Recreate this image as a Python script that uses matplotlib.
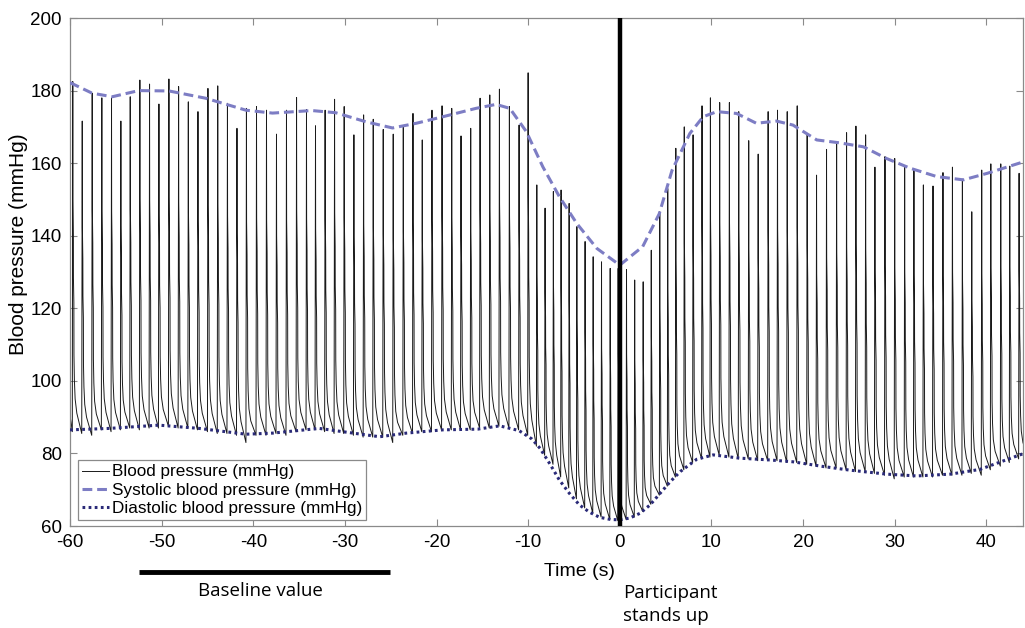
import numpy as np
import matplotlib
matplotlib.use("Agg")
import matplotlib.pyplot as plt
from matplotlib.lines import Line2D
import matplotlib.transforms as mtransforms

# ---------------- data ----------------
beat_t = [-59.75, -58.72, -57.63, -56.58, -55.52, -54.50, -53.48, -52.43, -51.37, -50.35,
          -49.26, -48.20, -47.14, -46.09, -45.00, -43.93, -42.87, -41.83, -40.80, -39.70,
          -38.61, -37.52, -36.43, -35.33, -34.24, -33.26, -32.21, -31.18, -30.13, -29.07,
          -28.01, -26.96, -25.87, -24.78, -23.68, -22.62, -21.61, -20.55, -19.45, -18.39,
          -17.38, -16.32, -15.30, -14.24, -13.19, -12.10, -11.04, -10.05, -9.10, -8.20,
          -7.29, -6.45, -5.57, -4.73, -3.83, -2.95, -2.04, -1.09, -0.22, 0.69,
          1.58, 2.51, 3.39, 4.32, 5.19, 6.07, 6.99, 7.95, 8.93, 9.84,
          10.85, 11.91, 12.93, 14.02, 15.05, 16.14, 17.16, 18.22, 19.31, 20.40,
          21.42, 22.51, 23.61, 24.70, 25.72, 26.78, 27.79, 28.89, 29.95, 31.04,
          32.05, 33.08, 34.13, 35.22, 36.25, 37.34, 38.36, 39.45, 40.44, 41.53,
          42.51, 43.53]
beat_peak = [182.5, 171.6, 179.3, 178.0, 177.9, 171.6, 178.3, 182.9, 181.8, 176.3,
             183.2, 181.1, 176.9, 174.2, 180.6, 181.3, 176.5, 169.6, 175.1, 175.6,
             174.6, 168.0, 174.6, 178.1, 174.8, 170.3, 174.6, 177.6, 175.6, 167.8,
             173.3, 172.1, 169.3, 168.0, 170.0, 173.7, 166.4, 174.6, 175.8, 175.1,
             167.5, 169.6, 177.9, 178.8, 180.4, 175.6, 170.5, 184.9, 154.0, 147.6,
             152.2, 152.6, 148.9, 142.5, 138.4, 134.2, 132.8, 131.0, 131.0, 130.7,
             127.8, 127.3, 136.0, 146.6, 153.0, 164.1, 170.0, 167.8, 175.8, 178.0,
             176.7, 176.7, 174.2, 166.2, 162.5, 174.2, 174.6, 174.2, 175.8, 168.2,
             156.7, 163.8, 165.9, 168.4, 170.2, 167.8, 158.9, 161.8, 161.3, 159.2,
             158.3, 154.0, 153.7, 157.4, 158.9, 155.6, 146.6, 158.1, 159.8, 159.8,
             159.2, 157.2]
beat_trough = [86.0, 85.5, 85.0, 86.5, 86.0, 86.5, 87.0, 86.5, 87.0, 87.0,
               87.5, 87.0, 87.0, 86.5, 86.0, 85.5, 85.5, 85.0, 83.0, 85.0,
               85.0, 85.5, 85.0, 86.0, 86.5, 86.5, 86.0, 85.5, 85.5, 85.0,
               84.5, 84.5, 84.5, 83.0, 85.0, 85.5, 86.0, 86.0, 86.5, 86.5,
               86.5, 86.5, 87.0, 87.0, 87.5, 87.0, 86.5, 85.0, 82.0, 79.5,
               77.0, 73.5, 70.5, 67.5, 65.0, 63.5, 62.5, 61.8, 61.5, 61.8,
               62.5, 64.0, 66.0, 68.5, 71.0, 73.5, 75.5, 77.5, 78.5, 79.0,
               79.5, 79.0, 78.5, 78.5, 78.0, 78.0, 78.0, 77.5, 77.5, 77.0,
               76.5, 76.0, 76.0, 75.5, 75.0, 75.0, 74.5, 74.0, 73.0, 73.5,
               73.5, 73.5, 73.5, 74.0, 74.0, 74.0, 74.5, 74.0, 75.5, 76.5,
               77.5, 78.5]
wave_start = (-60.0, 90.5)
wave_end = (44.5, 79.0)

# normalised shape of one pulse (phase of the beat, fraction of pulse height)
pulse_phase = [0.0, 0.05, 0.065, 0.11, 0.12, 0.165, 0.175, 0.22, 0.30, 0.48, 0.72, 1.0]
pulse_level = [0.0, 1.0, 0.66, 0.56, 0.44, 0.37, 0.22, 0.15, 0.095, 0.055, 0.03, 0.0]

sys_t = [-60.0, -57.6, -55.4, -52.5, -49.2, -45.2, -40.8, -37.9, -33.6, -31.0,
         -27.7, -24.8, -22.2, -19.3, -15.7, -13.5, -12.0, -10.2, -8.4, -6.6,
         -4.7, -2.5, 0.0, 2.5, 4.3, 5.7, 7.65, 9.1, 10.6, 12.75,
         14.9, 17.1, 18.9, 21.5, 24.0, 26.6, 29.1, 31.7, 34.6, 37.5,
         40.1, 44.1]
sys_v = [182.2, 179.3, 178.3, 180.0, 179.9, 177.9, 174.6, 173.8, 174.5, 173.9,
         171.4, 169.7, 171.0, 172.8, 175.1, 176.2, 175.1, 168.7, 159.0, 150.8,
         143.4, 136.5, 131.9, 137.0, 146.0, 158.0, 168.2, 172.8, 174.2, 173.7,
         171.0, 171.6, 170.5, 166.4, 165.6, 164.5, 161.3, 158.6, 156.3, 155.4,
         157.2, 160.4]

dia_t = [-60.0, -55.7, -50.3, -45.9, -40.8, -37.9, -32.8, -29.1, -26.2, -23.3,
         -19.3, -15.5, -13.1, -11.0, -9.6, -8.7, -7.6, -6.6, -5.5, -4.4,
         -3.3, -2.2, -1.0, 0.0, 1.1, 2.2, 3.3, 4.4, 5.5, 6.6,
         8.4, 10.2, 13.1, 16.4, 18.9, 22.2, 25.1, 29.1, 32.4, 36.1,
         39.3, 44.1]
dia_v = [86.5, 86.9, 87.8, 86.9, 85.3, 85.6, 86.9, 85.6, 84.6, 85.6,
         86.5, 86.7, 87.6, 86.3, 84.0, 81.4, 77.0, 72.7, 69.0, 65.8,
         63.8, 62.4, 61.8, 61.7, 62.2, 63.5, 65.8, 69.0, 72.2, 75.0,
         78.4, 79.6, 78.7, 78.2, 77.7, 76.4, 75.4, 74.3, 73.8, 74.3,
         75.6, 80.0]

x_ticks = [-60, -50, -40, -30, -20, -10, 0, 10, 20, 30, 40]
y_ticks = [60, 80, 100, 120, 140, 160, 180, 200]
baseline_span = (-52.5, -25.1)
stand_time = 0.0

# ---------------- build waveform from beats ----------------
ph = np.array(pulse_phase)
lv = np.array(pulse_level)
wt = [wave_start[0]]
wv = [wave_start[1]]
n = len(beat_t)
for i in range(n):
    t0 = beat_t[i]
    t1 = beat_t[i + 1] if i + 1 < n else wave_end[0]
    v0 = beat_trough[i]
    v1 = beat_trough[i + 1] if i + 1 < n else wave_end[1]
    tt = t0 + ph * (t1 - t0)
    base = v0 + ph * (v1 - v0)
    vv = base + lv * (beat_peak[i] - base)
    wt.extend(tt[:-1])
    wv.extend(vv[:-1])
wt.append(wave_end[0])
wv.append(wave_end[1])

# ---------------- figure ----------------
plt.rcParams['font.family'] = ['Liberation Sans', 'DejaVu Sans']
plt.rcParams['axes.unicode_minus'] = False
fig = plt.figure(figsize=(10.25, 6.28), dpi=100)
ax = fig.add_axes([0.0683, 0.1624, 0.9297, 0.8089])

spine_col = '#8a8a8a'
sys_col = '#7d7dc4'
dia_col = '#2a2a78'

ax.plot(wt, wv, color='#1a1a1a', lw=0.7, zorder=2)
ax.plot(sys_t, sys_v, color=sys_col, lw=2.2, ls=(0, (3.2, 1.6)), zorder=3)
ax.plot(dia_t, dia_v, color=dia_col, lw=2.2, ls=(0, (0.9, 1.1)), zorder=3)
ax.axvline(stand_time, color='black', lw=3.2, zorder=4)

ax.set_xlim(-60, 44)
ax.set_ylim(60, 200)
ax.set_xticks(x_ticks)
ax.set_yticks(y_ticks)
ax.tick_params(direction='in', length=5, width=0.8, color=spine_col,
               labelsize=13.5, top=True, right=True, pad=6)
for s in ax.spines.values():
    s.set_color(spine_col)
    s.set_linewidth(0.9)

ax.set_xlabel('Time (s)', fontsize=14, labelpad=2)
ax.xaxis.set_label_coords(0.5345, -0.072)
ax.set_ylabel('Blood pressure (mmHg)', fontsize=15, labelpad=4)
ax.yaxis.set_label_coords(-0.044, 0.555)

handles = [Line2D([], [], color='#1a1a1a', lw=0.7),
           Line2D([], [], color=sys_col, lw=2.2, ls=(0, (3.2, 1.6))),
           Line2D([], [], color=dia_col, lw=2.2, ls=(0, (0.9, 1.1)))]
labels = ['Blood pressure (mmHg)', 'Systolic blood pressure (mmHg)',
          'Diastolic blood pressure (mmHg)']
leg = ax.legend(handles, labels, loc='lower left', bbox_to_anchor=(0.008, 0.012),
                fontsize=12.3, frameon=True, fancybox=False, framealpha=1,
                edgecolor=spine_col, handlelength=1.6, handletextpad=0.15,
                labelspacing=0.18, borderpad=0.25, borderaxespad=0.0)
leg.get_frame().set_linewidth(0.9)

# annotations below the axis
trans = mtransforms.blended_transform_factory(ax.transData, ax.transAxes)
ax.plot(list(baseline_span), [-0.09, -0.09], color='black', lw=3.5,
        transform=trans, clip_on=False, solid_capstyle='butt')
ax.text(np.mean(baseline_span) - 0.4, -0.128, 'Baseline value', transform=trans,
        ha='center', va='center', fontsize=13.5, family=['Open Sans', 'DejaVu Sans'])
ax.text(0.35, -0.115, 'Participant\nstands up', transform=trans,
        ha='left', va='top', fontsize=13.5, family=['Open Sans', 'DejaVu Sans'],
        linespacing=1.35)

fig.savefig('out.png', dpi=100)
